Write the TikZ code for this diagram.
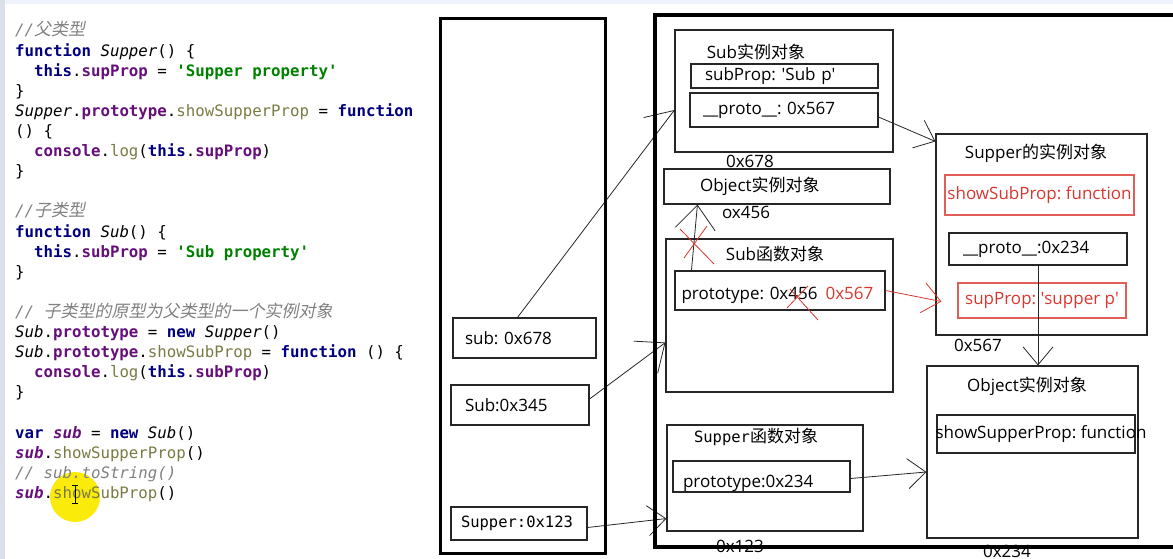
\documentclass[tikz,border=0pt]{standalone}
\usepackage{fontspec}
\setmainfont{Open Sans}
\newfontfamily\zhfont{Noto Sans CJK SC}
\newfontfamily\zhslant[FakeSlant=0.2]{Noto Sans CJK SC}
\newfontfamily\jsmono{DejaVu Sans Mono}
\usetikzlibrary{arrows.meta}

\definecolor{jskw}{HTML}{000080}
\definecolor{jsfld}{HTML}{660E7A}
\definecolor{jsstr}{HTML}{008000}
\definecolor{jsfn}{HTML}{7A7A43}
\definecolor{jscmt}{HTML}{808080}
\definecolor{jsred}{HTML}{D9362E}
\definecolor{jsbar}{HTML}{EEF2FA}
\definecolor{jsside}{HTML}{D9E0EA}
\definecolor{jsyel}{HTML}{FAEB0A}

% code colouring
\newcommand\jkw[1]{{\bfseries\color{jskw}#1}}
\newcommand\jfld[1]{{\bfseries\color{jsfld}#1}}
\newcommand\jstr[1]{{\bfseries\color{jsstr}#1}}
\newcommand\jfn[1]{{\color{jsfn}#1}}
\newcommand\jglb[1]{{\itshape #1}}
\newcommand\jvar[1]{{\bfseries\itshape\color{jsfld}#1}}
\newcommand\jcmt[1]{{\itshape\color{jscmt}#1}}
\newcommand\jzh[1]{{\zhslant\fontsize{17}{20}\selectfont #1}}
\newcommand\sq{\textquotesingle}
\newcommand\zh[1]{{\zhfont #1}}
\newcommand\codefs{\jsmono\fontsize{15.75}{18}\selectfont}
\newcommand\monofs{\jsmono\fontsize{15.5}{18}\selectfont}
\newcommand\diafs{\fontsize{17}{20}\selectfont\frenchspacing}

\tikzset{
  code/.style={anchor=base west, inner sep=0pt, font=\codefs},
  mem/.style={draw=black!85, line width=1.1pt, inner sep=0pt, font=\diafs},
  redbox/.style={mem, draw=jsred!80, text=jsred},
  addr/.style={inner sep=0pt, font=\diafs},
  ptr/.style={draw=black!85, line width=0.8pt, -{Straight Barb[length=18pt,width=30pt]}},
  bigptr/.style={ptr, -{Straight Barb[length=24pt,width=40pt]}},
  xmark/.style={draw=jsred, line width=0.8pt},
}

\begin{document}
\begin{tikzpicture}[x=1pt,y=-1pt]
    \useasboundingbox (0,0) rectangle (1173,559);
    \fill[jsbar] (0,0) rectangle (1173,4);
    \fill[jsside] (0,0) rectangle (5,559);
    \fill[jsyel] (75,497) circle (25pt);

    % source code
    \foreach \ln [count=\i] in {
      {\jcmt{//\jzh{父类型}}},
      {\jkw{function} \jglb{Supper}() \{},
      {\ \ \jkw{this}.\jfld{supProp} = \jstr{\sq Supper property\sq}},
      {\}},
      {\jglb{Supper}.\jfld{prototype}.\jfn{showSupperProp} = \jkw{function}},
      {() \{},
      {\ \ \jfld{console}.\jfn{log}(\jkw{this}.\jfld{supProp})},
      {\}},
      {},
      {\jcmt{//\jzh{子类型}}},
      {\jkw{function} \jglb{Sub}() \{},
      {\ \ \jkw{this}.\jfld{subProp} = \jstr{\sq Sub property\sq}},
      {\}},
      {},
      {\jcmt{// \jzh{子类型的原型为父类型的一个实例对象}}},
      {\jglb{Sub}.\jfld{prototype} = \jkw{new} \jglb{Supper}()},
      {\jglb{Sub}.\jfld{prototype}.\jfn{showSubProp} = \jkw{function} () \{},
      {\ \ \jfld{console}.\jfn{log}(\jkw{this}.\jfld{subProp})},
      {\}},
      {},
      {\jkw{var} \jvar{sub} = \jkw{new} \jglb{Sub}()},
      {\jvar{sub}.\jfn{showSupperProp}()},
      {\jcmt{// sub.toString()}},
      {\jvar{sub}.\jfn{showSubProp}()}}
    {
    \node[code] (c\i) at (15,{36+20.1*(\i-1)}) {\ln};
    }
    \draw[line width=0.8pt] (75,485) -- (75,503) (72,485) -- (78,485) (72,503) -- (78,503);

    % stack
    \node[mem, text width=119pt, inner xsep=12pt, minimum height=40pt, align=left] (subvar) at (524.5,338) {sub: 0x678};
    \node[mem, text width=110pt, inner xsep=14pt, minimum height=40pt, align=left] (subctor) at (520,405) {Sub:0x345};
    \node[mem, text width=116pt, inner xsep=10pt, minimum height=33pt, align=left, font=\monofs] (supctor) at (519,523.5) {Supper:0x123};

    % heap
    \node[mem, minimum width=218pt, minimum height=122pt] (subobj) at (784,91) {};
    \node[addr] (t1) at (756,52) {Sub\zh{实例对象}};
    \node[mem, text width=159pt, inner xsep=14pt, minimum height=24pt, align=left] (subprop) at (784.5,76) {subProp: \sq Sub p\sq};
    \node[mem, text width=162pt, inner xsep=13pt, minimum height=34pt, align=left] (subproto) at (784,110) {\_\_proto\_\_: 0x567};
    \node[addr] (a678) at (750,161) {0x678};
    \node[mem, text width=154pt, inner xsep=36pt, minimum height=35pt, align=left] (objA) at (777,186.5) {Object\zh{实例对象}};
    \node[addr] (a456) at (746,212) {ox456};
    \node[mem, minimum width=227pt, minimum height=153pt] (subfn) at (779.5,315.5) {};
    \node[addr] (t2) at (775,254) {Sub\zh{函数对象}};
    \node[mem, text width=197pt, inner xsep=6.5pt, minimum height=39pt, text height=21pt, text depth=4pt, align=left] (subptype) at (780,290.5) {\mbox{prototype: 0x456\hspace{8pt}\textcolor{jsred}{0x567}}};
    \node[mem, minimum width=196pt, minimum height=106pt] (supfn) at (765,478) {};
    \node[addr] (t3) at (756,437) {{\monofs Supper}\zh{函数对象}};
    \node[mem, text width=157pt, inner xsep=10pt, minimum height=31pt, text height=25pt, text depth=4pt, align=left] (supptype) at (761.5,476.5) {prototype:0x234};
    \node[addr] (a123) at (740,546) {0x123};

    \node[mem, minimum width=211pt, minimum height=201pt] (supinst) at (1041.5,234.5) {};
    \node[addr] (t4) at (1036,153) {Supper\zh{的实例对象}};
    \node[redbox, minimum width=189pt, minimum height=40pt] (showsub) at (1039.5,195) {showSubProp: function};
    \node[mem, text width=150pt, inner xsep=14pt, minimum height=32pt, align=left] (supproto) at (1038,249) {\_\_proto\_\_:0x234};
    \node[redbox, minimum width=168pt, minimum height=35pt] (supprop) at (1042,300.5) {supProp: \sq supper p\sq};
    \node[addr] (a567) at (978,345) {0x567};
    \node[mem, minimum width=211pt, minimum height=172pt] (objB) at (1032.5,452) {};
    \node[addr] (t5) at (1027,386) {Object\zh{实例对象}};
    \node[mem, minimum width=198pt, minimum height=38pt] (showsup) at (1036,434) {};
    \node[addr] (t6) at (1041,434) {showSupperProp: function};
    \node[addr] (a234) at (1007,551) {0x234};

    % pointers
    \draw[bigptr] ([xshift=-7pt]subvar.north) -- ([yshift=-19pt]subobj.west);
    \draw[bigptr] ([yshift=6pt]subctor.east) -- ([yshift=-27pt]subfn.west);
    \draw[ptr] ([yshift=-4pt]supctor.east) -- ([yshift=13pt]supfn.south west);
    \draw[ptr] ([yshift=-7pt]subproto.east) -- ([yshift=-8pt]supinst.north west);
    \draw[bigptr] ([xshift=17pt]subptype.north west) -- ([xshift=34pt]objA.south west);
    \draw[ptr, draw=jsred] (subptype.east) -- ([xshift=-16pt,yshift=-1pt]supprop.west);
    \draw[ptr] (supproto.south) -- (supproto.south |- objB.north);
    \draw[ptr] ([yshift=-2pt]supptype.east) -- ([yshift=-20pt]objB.west);

    % crossed out
    \draw[xmark] (680,229) -- (714,264) (707,226) -- (684,258);
    \draw[xmark] (787,308) -- (808,286) (790,289) -- (818,320);

    % stack and heap
    \draw[line width=3pt] (440,19) rectangle (605,553);
    \draw[line width=3.5pt] (1173,15) -- (655,15) -- (655,547) -- (1173,547);
\end{tikzpicture}
\end{document}
